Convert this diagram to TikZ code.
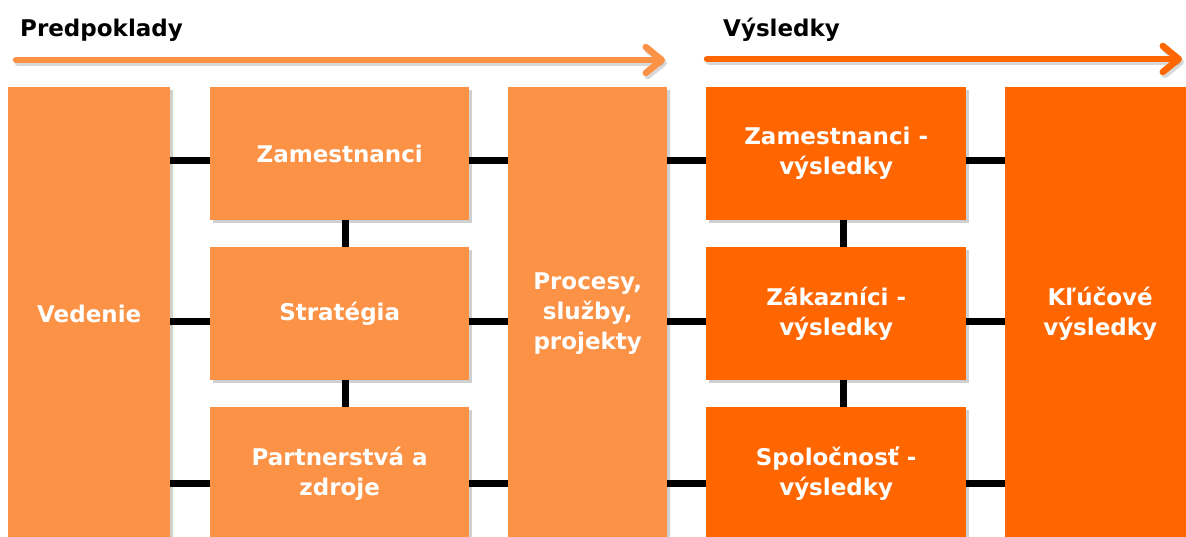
\documentclass[tikz,border=0pt]{standalone}
\usepackage{fontspec}
\setmainfont{DejaVu Sans}
\usetikzlibrary{shadows,arrows.meta,calc}
\definecolor{lightor}{HTML}{FB9246}
\definecolor{darkor}{HTML}{FF6600}
\tikzset{
  box/.style={anchor=north west, inner sep=0pt, align=center, text=white,
    font=\bfseries\fontsize{23}{30}\selectfont,
    drop shadow={shadow xshift=3pt, shadow yshift=-3pt, opacity=0.3, fill=black!60}},
  lightbox/.style={box, fill=lightor},
  darkbox/.style={box, fill=darkor},
  smallbox/.style={minimum width=259pt, minimum height=133pt},
  conn/.style={line width=7pt, black},
  flow/.style={line width=6.5pt, line cap=round, -{Straight Barb[length=16pt,width=26pt,round]}},
  flowshadow/.style={flow, black!50, opacity=0.3},
  title/.style={anchor=base west, inner sep=0pt, font=\bfseries\fontsize{23}{28}\selectfont}
}
\begin{document}
\begin{tikzpicture}[x=1pt,y=-1pt]
\useasboundingbox (0,0) rectangle (1186,537);
\fill[white] (0,0) rectangle (1186,537);
\begin{scope}
\clip (0,0) rectangle (1186,537);
% titles
\node[title] (tp) at (20,37) {Predpoklady};
\node[title] (tv) at (723,37) {Výsledky};
% flow arrows
\coordinate (a1s) at (16,60);
\coordinate (a1e) at (665,60);
\coordinate (a2s) at (707,59);
\coordinate (a2e) at (1182,59);
\draw[flowshadow] ($(a1s)+(2,3)$) -- ($(a1e)+(2,3)$);
\draw[flowshadow] ($(a2s)+(2,3)$) -- ($(a2e)+(2,3)$);
\draw[flow, lightor] (a1s) -- (a1e);
\draw[flow, darkor] (a2s) -- (a2e);
% boxes
\node[lightbox, minimum width=162pt, minimum height=453pt] (ved) at (8,87) {Vedenie};
\node[lightbox, smallbox] (zam) at (210,87) {Zamestnanci};
\node[lightbox, smallbox] (str) at (210,247) {Stratégia};
\node[lightbox, smallbox] (par) at (210,407) {Partnerstvá a\\zdroje};
\node[lightbox, minimum width=159pt, minimum height=453pt] (pro) at (508,87) {Procesy,\\služby,\\projekty};
\node[darkbox, smallbox, minimum width=260pt] (zv) at (706,87) {Zamestnanci -\\výsledky};
\node[darkbox, smallbox, minimum width=260pt] (kv) at (706,247) {Zákazníci -\\výsledky};
\node[darkbox, smallbox, minimum width=260pt] (sv) at (706,407) {Spoločnosť -\\výsledky};
\node[darkbox, minimum width=190pt, minimum height=453pt] (kl) at (1005,87) {Kľúčové\\výsledky};
% connector guides
\coordinate (r1) at (0,161);
\coordinate (r2) at (0,322);
\coordinate (r3) at (0,483);
\coordinate (c1) at (345,0);
\coordinate (c2) at (843,0);
% horizontal connectors
\foreach \r/\m/\d in {r1/zam/zv, r2/str/kv, r3/par/sv}{
  \draw[conn] (ved.east |- \r) -- (\m.west |- \r);
  \draw[conn] (\m.east |- \r) -- (pro.west |- \r);
  \draw[conn] (pro.east |- \r) -- (\d.west |- \r);
  \draw[conn] (\d.east |- \r) -- (kl.west |- \r);
}
% vertical connectors
\draw[conn] (zam.south -| c1) -- (str.north -| c1);
\draw[conn] (str.south -| c1) -- (par.north -| c1);
\draw[conn] (zv.south -| c2) -- (kv.north -| c2);
\draw[conn] (kv.south -| c2) -- (sv.north -| c2);
\end{scope}
\end{tikzpicture}
\end{document}
